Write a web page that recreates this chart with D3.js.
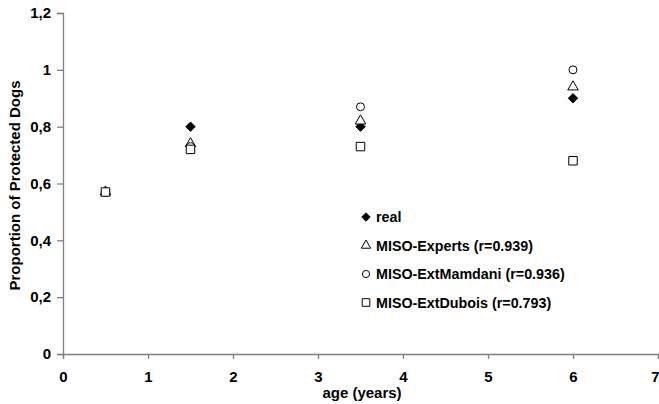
<!DOCTYPE html>
<html>
<head>
<meta charset="utf-8">
<script src="https://cdn.jsdelivr.net/npm/d3@7/dist/d3.min.js"></script>
<style>
  html, body { margin: 0; padding: 0; background: #fff; }
  svg { display: block; font-family: Arial, "Liberation Sans", sans-serif; }
</style>
</head>
<body>
<svg id="chart" width="659" height="404"></svg>
<script>
// Ages (years) at which protection was measured
const ages = [0.5, 1.5, 3.5, 6];

// Observed and modelled proportions of protected dogs
const real = [0.57, 0.8, 0.8, 0.9];
const misoExperts = [0.57, 0.74, 0.82, 0.94];
const misoExtMamdani = [0.57, 0.73, 0.87, 1.0];
const misoExtDubois = [0.57, 0.72, 0.73, 0.68];

const seriesNames = [
  "real",
  "MISO-Experts (r=0.939)",
  "MISO-ExtMamdani (r=0.936)",
  "MISO-ExtDubois (r=0.793)"
];

const xTicks = [0, 1, 2, 3, 4, 5, 6, 7];
const yTicks = [0, 0.2, 0.4, 0.6, 0.8, 1, 1.2];
const yTickLabels = ["0", "0,2", "0,4", "0,6", "0,8", "1", "1,2"];

const svg = d3.select("#chart");
const margin = { left: 63, right: 1, top: 13, bottom: 50 };
const W = 659, H = 404;

const x = d3.scaleLinear().domain([0, 7]).range([margin.left, W - margin.right]);
const y = d3.scaleLinear().domain([0, 1.2]).range([H - margin.bottom, margin.top]);

const axisColor = "#808080";

// Y axis
const yAxis = svg.append("g")
  .attr("transform", `translate(${margin.left},0)`)
  .call(d3.axisLeft(y).tickValues(yTicks).tickSize(6).tickPadding(6)
    .tickFormat((d, i) => yTickLabels[i]));
// X axis
const xAxis = svg.append("g")
  .attr("transform", `translate(0,${H - margin.bottom})`)
  .call(d3.axisBottom(x).tickValues(xTicks).tickSize(5).tickPadding(12)
    .tickFormat(d3.format("d")));

[yAxis, xAxis].forEach(g => {
  g.select(".domain").attr("stroke", axisColor).attr("stroke-width", 1.3);
  g.selectAll(".tick line").attr("stroke", axisColor).attr("stroke-width", 1.3);
  g.selectAll(".tick text")
    .attr("fill", "#000")
    .style("font-size", "15px")
    .style("font-weight", "bold");
});

// keep the last x label inside the frame
xAxis.selectAll(".tick text").filter(d => d === 7).attr("text-anchor", "end").attr("dx", 1);

// Axis titles
svg.append("text")
  .attr("x", (margin.left + W) / 2 + 1)
  .attr("y", 398)
  .attr("text-anchor", "middle")
  .style("font-size", "15px")
  .style("font-weight", "bold")
  .text("age (years)");

svg.append("text")
  .attr("transform", `translate(20,${(margin.top + H - margin.bottom) / 2 + 2}) rotate(-90)`)
  .attr("text-anchor", "middle")
  .style("font-size", "15px")
  .style("font-weight", "bold")
  .text("Proportion of Protected Dogs");

// Marker definitions per series
const markers = [
  { type: d3.symbolDiamond2, size: 56, fill: "#000", stroke: "#000" },
  { type: d3.symbolTriangle, size: 48, fill: "#fff", stroke: "#000" },
  { type: d3.symbolCircle, size: 50, fill: "#fff", stroke: "#000" },
  { type: d3.symbolSquare, size: 72, fill: "#fff", stroke: "#000" }
];

const allSeries = [real, misoExperts, misoExtMamdani, misoExtDubois];

// Draw the real values first, then each model series over them
allSeries.forEach((vals, si) => {
  const m = markers[si];
  svg.append("g")
    .selectAll("path")
    .data(vals.map((v, i) => ({ age: ages[i], v })))
    .join("path")
    .attr("transform", d => `translate(${x(d.age)},${y(d.v)})`)
    .attr("d", d3.symbol().type(m.type).size(m.size))
    .attr("fill", m.fill)
    .attr("stroke", m.stroke)
    .attr("stroke-width", 1);
});

// Legend
const legend = svg.append("g").attr("transform", "translate(366,217)");
seriesNames.forEach((name, i) => {
  const m = markers[i];
  const row = legend.append("g").attr("transform", `translate(0,${i * 28.5})`);
  row.append("path")
    .attr("d", d3.symbol().type(m.type).size(m.size * 0.8))
    .attr("fill", m.fill)
    .attr("stroke", m.stroke)
    .attr("stroke-width", 1);
  row.append("text")
    .attr("x", 10)
    .attr("y", 5)
    .style("font-size", "14.3px")
    .style("font-weight", "bold")
    .text(name);
});
</script>
</body>
</html>
